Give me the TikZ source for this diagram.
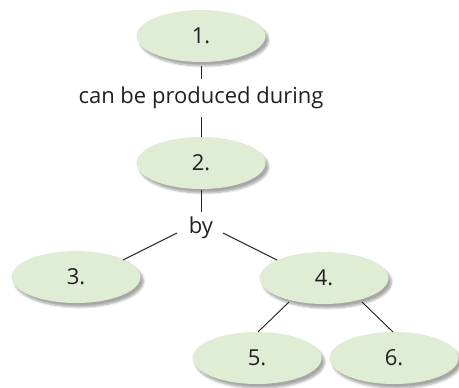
\documentclass[tikz,border=0pt]{standalone}
\usepackage{fontspec}
\setmainfont{Open Sans}
\usetikzlibrary{shapes.geometric,shadows.blur}
\definecolor{bubble}{HTML}{E0EDD5}
\definecolor{ink}{HTML}{231F20}
\tikzset{
  bub/.style={ellipse, fill=bubble, minimum width=129pt, minimum height=52pt, inner sep=0pt,
    blur shadow={shadow xshift=3pt, shadow yshift=-4pt, shadow blur steps=6, shadow opacity=35},
    font=\fontsize{22}{24}\selectfont, text=ink},
  lbl/.style={font=\fontsize{22}{24}\selectfont, text=ink, inner sep=0pt},
  con/.style={draw=ink, line width=0.9pt}
}
\begin{document}
\begin{tikzpicture}[x=1pt,y=-1pt]
\useasboundingbox (0,0) rectangle (459,388);
\node[bub] (n1) at (201,36) {1.};
\node[bub] (n2) at (201,163) {2.};
\node[bub] (n3) at (76,277) {3.};
\node[bub] (n4) at (324,278) {4.};
\node[bub] (n5) at (257,358) {5.};
\node[bub] (n6) at (394,358) {6.};
\node[lbl] (t1) at (201,98) {can be produced during};
\node[lbl] (t2) at (201,228) {by};
\coordinate (a1) at (201,66);
\coordinate (a2) at (201,79);
\coordinate (b1) at (201,117);
\coordinate (b2) at (201,137);
\coordinate (c1) at (201,190);
\coordinate (c2) at (201,212);
\draw[con] (a1) -- (a2);
\draw[con] (b1) -- (b2);
\draw[con] (c1) -- (c2);
\coordinate (d1) at (177,233);
\coordinate (d2) at (123,260);
\coordinate (e1) at (223,233);
\coordinate (e2) at (277,260);
\draw[con] (d1) -- (d2);
\draw[con] (e1) -- (e2);
\coordinate (f1) at (289,302);
\coordinate (f2) at (258,332);
\coordinate (g1) at (362,302);
\coordinate (g2) at (393,332);
\draw[con] (f1) -- (f2);
\draw[con] (g1) -- (g2);
\end{tikzpicture}
\end{document}
